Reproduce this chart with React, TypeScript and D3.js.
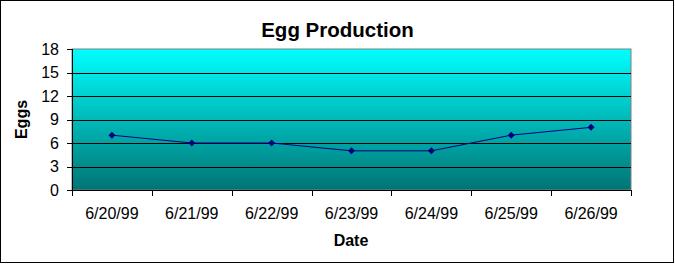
import React from "react";
import * as d3 from "d3";

const categories = ["6/20/99", "6/21/99", "6/22/99", "6/23/99", "6/24/99", "6/25/99", "6/26/99"];
const eggs = [7, 6, 6, 5, 5, 7, 8];
const yTicks = [0, 3, 6, 9, 12, 15, 18];

const W = 675;
const H = 264;
const plot = { left: 72, right: 631, top: 49, bottom: 190 };
const font = "'Liberation Sans', Arial, sans-serif";

export default function App() {
  const x = d3.scaleBand<string>().domain(categories).range([plot.left, plot.right]).padding(0);
  const y = d3.scaleLinear().domain([0, 18]).range([plot.bottom, plot.top]);
  const cx = (c: string) => (x(c) as number) + x.bandwidth() / 2;
  const line = d3
    .line<number>()
    .x((_, i) => cx(categories[i]))
    .y((d) => y(d));
  const boundaries = d3.range(categories.length + 1).map((i) => plot.left + i * x.bandwidth());

  return (
    <svg
      width={W}
      height={H}
      style={{ position: "absolute", left: 0, top: 0, display: "block" }}
      fontFamily={font}
    >
      <defs>
        <linearGradient id="bg" x1="0" y1="0" x2="0" y2="1">
          <stop offset="0" stopColor="#00ffff" />
          <stop offset="1" stopColor="#007474" />
        </linearGradient>
      </defs>
      <rect x={0.5} y={0.5} width={W - 2} height={H - 2} fill="#fff" stroke="#000" />
      <text x={337.5} y={36.5} textAnchor="middle" fontSize={20.5} fontWeight="bold">
        Egg Production
      </text>
      <rect
        x={plot.left}
        y={plot.top}
        width={plot.right - plot.left}
        height={plot.bottom - plot.top}
        fill="url(#bg)"
        stroke="#808080"
      />
      {yTicks.filter((t) => t > 0 && t < 18).map((t) => (
        <line key={t} x1={plot.left} x2={plot.right} y1={Math.round(y(t)) + 0.5} y2={Math.round(y(t)) + 0.5} stroke="#000" />
      ))}
      <line x1={plot.left + 0.5} x2={plot.left + 0.5} y1={plot.top} y2={plot.bottom} stroke="#000" />
      <line x1={plot.left} x2={plot.right + 1} y1={plot.bottom + 0.5} y2={plot.bottom + 0.5} stroke="#000" />
      {yTicks.map((t) => (
        <g key={t}>
          <line x1={plot.left - 5} x2={plot.left} y1={Math.round(y(t)) + 0.5} y2={Math.round(y(t)) + 0.5} stroke="#000" />
          <text x={59} y={y(t) + 5.5} textAnchor="end" fontSize={16}>
            {t}
          </text>
        </g>
      ))}
      {boundaries.map((b, i) => (
        <line key={i} x1={Math.round(b) + 0.5} x2={Math.round(b) + 0.5} y1={plot.bottom} y2={plot.bottom + 6} stroke="#000" />
      ))}
      {categories.map((c) => (
        <text key={c} x={cx(c)} y={219} textAnchor="middle" fontSize={16}>
          {c}
        </text>
      ))}
      <path d={line(eggs) || ""} fill="none" stroke="#000080" strokeWidth={1} />
      {eggs.map((v, i) => {
        const px = cx(categories[i]);
        const py = y(v);
        const s = 3.5;
        return (
          <path
            key={i}
            d={`M${px},${py - s}L${px + s},${py}L${px},${py + s}L${px - s},${py}Z`}
            fill="#000080"
          />
        );
      })}
      <text x={351} y={245.5} textAnchor="middle" fontSize={16} fontWeight="bold">
        Date
      </text>
      <text
        transform={`translate(27,${(plot.top + plot.bottom) / 2}) rotate(-90)`}
        textAnchor="middle"
        fontSize={16}
        fontWeight="bold"
      >
        Eggs
      </text>
    </svg>
  );
}
